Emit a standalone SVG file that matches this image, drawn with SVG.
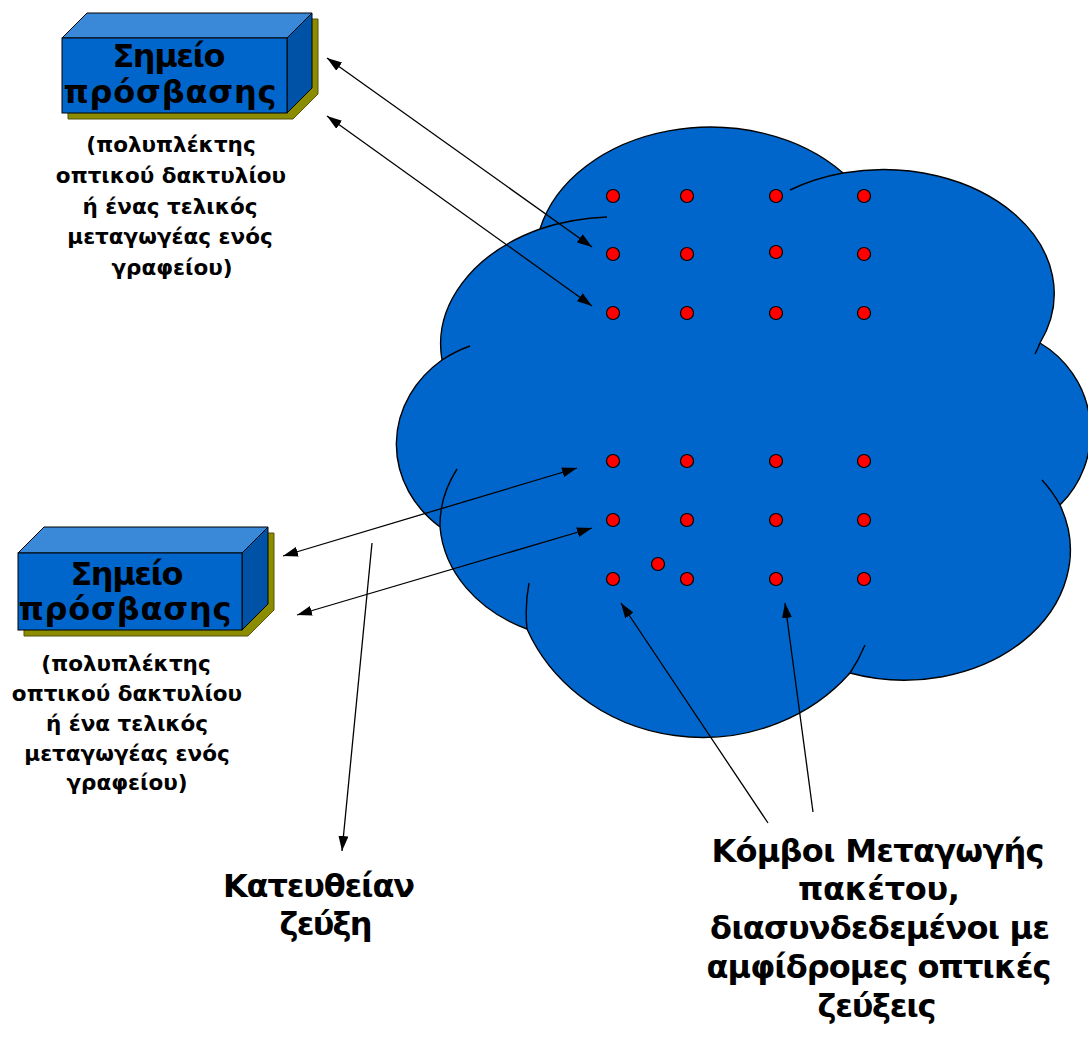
<svg xmlns="http://www.w3.org/2000/svg" width="1088" height="1046" viewBox="0 0 1088 1046">
<style>
.big{font-family:"DejaVu Sans",sans-serif;font-weight:bold;font-size:32px;fill:#000;text-anchor:middle}
.cap{font-family:"DejaVu Sans",sans-serif;font-weight:bold;font-size:21.5px;fill:#000;text-anchor:middle}
.conn{stroke:#000;stroke-width:1.3;fill:none}
.dot{fill:#FF0000;stroke:#000;stroke-width:1.2}
.front{fill:#0066CC;stroke:#000;stroke-width:1}
.top{fill:#3A88D8;stroke:#000;stroke-width:1}
.side{fill:#0052A6;stroke:#000;stroke-width:1}
.shadow{fill:#8C8C00;stroke:#55550A;stroke-width:1}
</style>
<defs>
<marker id="ah" viewBox="0 0 15 10" refX="15" refY="5" markerWidth="15" markerHeight="10" markerUnits="userSpaceOnUse" orient="auto-start-reverse">
<path d="M0,0 L15,5 L0,10 z" fill="#000"/>
</marker>
</defs>
<rect width="1088" height="1046" fill="#fff"/>

<g id="cloud">
<path d="M540 229 A175 132 0 0 1 843 173 A171 124 0 0 1 1040 343 A103 103 0 0 1 1060 505 A166 130 0 0 1 850 673 A190 175 0 0 1 527 629 A148 121 0 0 1 440 527 A122 108 0 0 1 442 360 A180 129 0 0 1 540 229 Z" fill="#0066CC" stroke="#000" stroke-width="1.4"/>
<path d="M540 229 A180 129 0 0 1 607 217 M790 190 A171 124 0 0 1 843 173 M442 360 A122 108 0 0 1 470 346 M1040 343 A171 124 0 0 1 1035 354 M1042 480 A166 130 0 0 1 1060 505 M440 527 A148 121 0 0 1 457 469 M527 629 A190 175 0 0 1 529 583 M865 645 A190 175 0 0 1 850 673" fill="none" stroke="#000" stroke-width="1.4"/>
</g>

<g id="nodes-switching">
<circle class="dot" cx="613" cy="196" r="6.5"/><circle class="dot" cx="687" cy="196" r="6.5"/><circle class="dot" cx="776" cy="196" r="6.5"/><circle class="dot" cx="864" cy="196" r="6.5"/>
<circle class="dot" cx="613" cy="254" r="6.5"/><circle class="dot" cx="687" cy="254" r="6.5"/><circle class="dot" cx="776" cy="252" r="6.5"/><circle class="dot" cx="864" cy="254" r="6.5"/>
<circle class="dot" cx="613" cy="313" r="6.5"/><circle class="dot" cx="687" cy="313" r="6.5"/><circle class="dot" cx="776" cy="313" r="6.5"/><circle class="dot" cx="864" cy="313" r="6.5"/>
<circle class="dot" cx="613" cy="461" r="6.5"/><circle class="dot" cx="687" cy="461" r="6.5"/><circle class="dot" cx="776" cy="461" r="6.5"/><circle class="dot" cx="864" cy="461" r="6.5"/>
<circle class="dot" cx="613" cy="520" r="6.5"/><circle class="dot" cx="687" cy="520" r="6.5"/><circle class="dot" cx="776" cy="520" r="6.5"/><circle class="dot" cx="864" cy="520" r="6.5"/>
<circle class="dot" cx="613" cy="579" r="6.5"/><circle class="dot" cx="687" cy="579" r="6.5"/><circle class="dot" cx="776" cy="579" r="6.5"/><circle class="dot" cx="864" cy="579" r="6.5"/>
<circle class="dot" cx="658" cy="564" r="6.5"/>
</g>

<g id="access-point-top">
<polygon class="shadow" points="68,44 93,19 318,19 318,94 293,119 68,119"/>
<polygon class="top" points="62,38 87,13 312,13 287,38"/>
<polygon class="side" points="287,38 312,13 312,88 287,113"/>
<rect class="front" x="62" y="38" width="225" height="75"/>
<text class="big" x="169" y="67" textLength="113" lengthAdjust="spacing">Σημείο</text>
<text class="big" x="170" y="103" textLength="213" lengthAdjust="spacing">πρόσβασης</text>
<text class="cap" x="171" y="152">(πολυπλέκτης</text>
<text class="cap" x="171" y="183">οπτικού δακτυλίου</text>
<text class="cap" x="170" y="214">ή ένας τελικός</text>
<text class="cap" x="170" y="244">μεταγωγέας ενός</text>
<text class="cap" x="172" y="275">γραφείου)</text>
</g>

<g id="access-point-bottom">
<polygon class="shadow" points="24,559 50,533 274,533 274,610 248,636 24,636"/>
<polygon class="top" points="18,553 44,527 268,527 242,553"/>
<polygon class="side" points="242,553 268,527 268,604 242,630"/>
<rect class="front" x="18" y="553" width="224" height="77"/>
<text class="big" x="127" y="585" textLength="113" lengthAdjust="spacing">Σημείο</text>
<text class="big" x="125" y="620" textLength="213" lengthAdjust="spacing">πρόσβασης</text>
<text class="cap" x="126" y="671">(πολυπλέκτης</text>
<text class="cap" x="127" y="701">οπτικού δακτυλίου</text>
<text class="cap" x="127" y="731">ή ένα τελικός</text>
<text class="cap" x="127" y="761">μεταγωγέας ενός</text>
<text class="cap" x="127" y="790">γραφείου)</text>
</g>

<g id="label-direct-link">
<text class="big" x="319" y="897" textLength="192" lengthAdjust="spacing">Κατευθείαν</text>
<text class="big" x="326" y="935" textLength="93" lengthAdjust="spacing">ζεύξη</text>
</g>

<g id="label-switching-nodes">
<text class="big" x="878" y="862" textLength="333" lengthAdjust="spacing">Κόμβοι Μεταγωγής</text>
<text class="big" x="879" y="900" textLength="162" lengthAdjust="spacing">πακέτου,</text>
<text class="big" x="880" y="939" textLength="340" lengthAdjust="spacing">διασυνδεδεμένοι με</text>
<text class="big" x="879" y="978" textLength="345" lengthAdjust="spacing">αμφίδρομες οπτικές</text>
<text class="big" x="877" y="1017" textLength="119" lengthAdjust="spacing">ζεύξεις</text>
</g>

<g id="connectors">
<line class="conn" x1="327" y1="58" x2="592" y2="247" marker-start="url(#ah)" marker-end="url(#ah)"/>
<line class="conn" x1="327" y1="116" x2="592" y2="306" marker-start="url(#ah)" marker-end="url(#ah)"/>
<line class="conn" x1="283" y1="556" x2="577" y2="468" marker-start="url(#ah)" marker-end="url(#ah)"/>
<line class="conn" x1="297" y1="615" x2="592" y2="528" marker-start="url(#ah)" marker-end="url(#ah)"/>
<line class="conn" x1="372" y1="543" x2="342" y2="851" marker-end="url(#ah)"/>
<line class="conn" x1="768" y1="823" x2="621" y2="603" marker-end="url(#ah)"/>
<line class="conn" x1="813" y1="812" x2="785" y2="603" marker-end="url(#ah)"/>
</g>
</svg>
